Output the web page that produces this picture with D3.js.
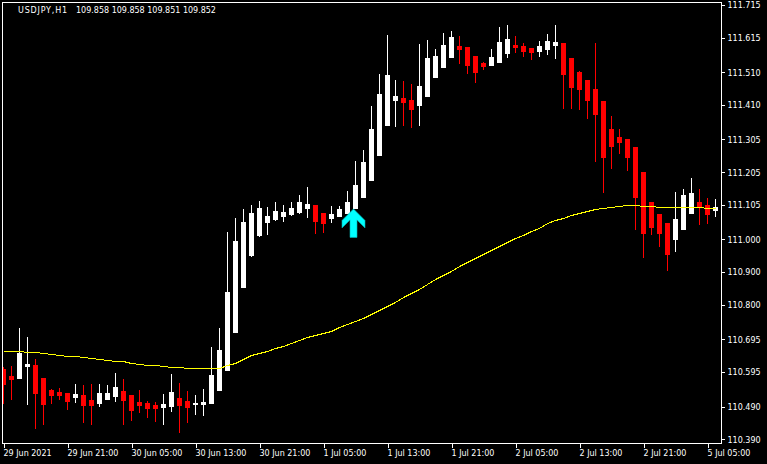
<!DOCTYPE html>
<html>
<head>
<meta charset="utf-8">
<script src="https://cdn.jsdelivr.net/npm/d3@7/dist/d3.min.js"></script>
<style>
  html, body { margin: 0; padding: 0; background: #000; }
  svg { display: block; }
  text { font-family: 'DejaVu Sans', sans-serif; font-size: 8px; fill: #fff; }
</style>
</head>
<body>
<div id="chart"></div>
<script>
// USDJPY H1 bars, oldest first (29 Jun 13:00 .. 5 Jul 06:00)
var opens = [
  110.605, 110.584, 110.578, 110.615, 110.617, 110.577, 110.541, 110.535, 110.531, 110.519,
  110.525, 110.510, 110.502, 110.513, 110.523, 110.538, 110.525, 110.504, 110.501, 110.495,
  110.489, 110.492, 110.516, 110.507, 110.499, 110.499, 110.502, 110.541, 110.603, 110.718,
  110.856, 110.953, 111.014, 111.054, 111.063, 111.072, 111.077, 111.084, 111.097, 111.105,
  111.081, 111.066, 111.071, 111.081, 111.097, 111.130, 111.182, 111.258, 111.350, 111.426,
  111.431, 111.425, 111.411, 111.438, 111.496, 111.527, 111.557, 111.590, 111.587, 111.559,
  111.538, 111.533, 111.542, 111.570, 111.594, 111.590, 111.584, 111.576, 111.582, 111.593,
  111.599, 111.553, 111.511, 111.486, 111.459, 111.422, 111.337, 111.312, 111.306, 111.282,
  111.206, 111.114, 111.077, 111.050, 111.002, 111.033, 111.081, 111.114, 111.105, 111.091
];
var highs = [
  110.612, 110.614, 110.730, 110.702, 110.635, 110.577, 110.544, 110.547, 110.531, 110.559,
  110.556, 110.559, 110.559, 110.556, 110.592, 110.574, 110.525, 110.541, 110.507, 110.504,
  110.528, 110.589, 110.562, 110.538, 110.525, 110.544, 110.672, 110.730, 111.023, 111.065,
  111.093, 111.105, 111.117, 111.099, 111.114, 111.105, 111.114, 111.135, 111.160, 111.105,
  111.081, 111.102, 111.102, 111.148, 111.240, 111.273, 111.407, 111.505, 111.624, 111.486,
  111.483, 111.474, 111.596, 111.608, 111.581, 111.630, 111.636, 111.620, 111.587, 111.559,
  111.541, 111.581, 111.648, 111.654, 111.620, 111.599, 111.584, 111.605, 111.627, 111.654,
  111.599, 111.553, 111.514, 111.486, 111.599, 111.422, 111.376, 111.337, 111.306, 111.282,
  111.206, 111.114, 111.077, 111.050, 111.145, 111.154, 111.187, 111.154, 111.126, 111.123
];
var lows = [
  110.502, 110.513, 110.578, 110.499, 110.426, 110.438, 110.502, 110.514, 110.484, 110.505,
  110.444, 110.438, 110.493, 110.513, 110.508, 110.438, 110.450, 110.474, 110.459, 110.447,
  110.438, 110.477, 110.413, 110.444, 110.468, 110.465, 110.502, 110.541, 110.603, 110.718,
  110.856, 110.950, 111.010, 111.017, 111.060, 111.057, 111.075, 111.081, 111.069, 111.020,
  111.023, 111.054, 111.071, 111.081, 111.096, 111.130, 111.182, 111.258, 111.350, 111.347,
  111.350, 111.344, 111.350, 111.438, 111.496, 111.527, 111.557, 111.539, 111.509, 111.481,
  111.521, 111.533, 111.542, 111.557, 111.573, 111.560, 111.551, 111.560, 111.566, 111.554,
  111.402, 111.402, 111.399, 111.371, 111.240, 111.146, 111.219, 111.264, 111.213, 111.033,
  110.947, 111.017, 110.981, 110.907, 110.966, 111.033, 111.081, 111.048, 111.051, 111.072
];
var closes = [
  110.559, 110.574, 110.654, 110.621, 110.532, 110.499, 110.525, 110.525, 110.507, 110.528,
  110.495, 110.495, 110.531, 110.531, 110.550, 110.510, 110.481, 110.495, 110.487, 110.487,
  110.498, 110.534, 110.495, 110.489, 110.502, 110.505, 110.586, 110.663, 110.840, 110.995,
  111.053, 111.081, 111.096, 111.071, 111.087, 111.084, 111.096, 111.114, 111.108, 111.057,
  111.051, 111.077, 111.093, 111.114, 111.166, 111.236, 111.337, 111.444, 111.502, 111.437,
  111.420, 111.399, 111.468, 111.553, 111.559, 111.593, 111.617, 111.581, 111.533, 111.512,
  111.530, 111.556, 111.602, 111.611, 111.588, 111.576, 111.573, 111.590, 111.605, 111.602,
  111.505, 111.465, 111.459, 111.426, 111.383, 111.252, 111.286, 111.298, 111.252, 111.130,
  111.020, 111.039, 111.020, 110.956, 111.062, 111.135, 111.142, 111.100, 111.078, 111.099
];
// yellow moving average, one value per bar
var maValues = [
  110.659, 110.659, 110.659, 110.658, 110.656, 110.653, 110.650, 110.647, 110.644, 110.643,
  110.640, 110.637, 110.635, 110.631, 110.630, 110.628, 110.624, 110.621, 110.618, 110.616,
  110.615, 110.612, 110.610, 110.608, 110.607, 110.607, 110.607, 110.607, 110.616, 110.623,
  110.635, 110.646, 110.652, 110.660, 110.668, 110.676, 110.685, 110.692, 110.701, 110.707,
  110.713, 110.721, 110.733, 110.742, 110.750, 110.759, 110.772, 110.784, 110.797, 110.809,
  110.823, 110.836, 110.850, 110.864, 110.878, 110.891, 110.905, 110.919, 110.931, 110.943,
  110.955, 110.968, 110.980, 110.992, 111.003, 111.013, 111.026, 111.036, 111.049, 111.058,
  111.065, 111.074, 111.081, 111.088, 111.092, 111.095, 111.098, 111.102, 111.104, 111.104,
  111.103, 111.101, 111.098, 111.098, 111.098, 111.098, 111.100, 111.099, 111.097, 111.097
];

var yTickValues = [111.715, 111.615, 111.510, 111.410, 111.305, 111.205, 111.105,
  111.000, 110.900, 110.800, 110.695, 110.595, 110.490, 110.390];
var xTickIndex = [0, 8, 16, 24, 32, 40, 48, 56, 64, 72, 80, 88];
var xTickLabels = ['29 Jun 2021', '29 Jun 21:00', '30 Jun 05:00', '30 Jun 13:00',
  '30 Jun 21:00', '1 Jul 05:00', '1 Jul 13:00', '1 Jul 21:00', '2 Jul 05:00',
  '2 Jul 13:00', '2 Jul 21:00', '5 Jul 05:00'];

// buy signal arrow
var signalIndex = 44;
var signalPrice = 111.093;

var headerSymbol = 'USDJPY,H1';
var headerPrices = '109.858 109.858 109.851 109.852';

var width = 767;
var height = 464;
var frame = {left: 2.5, right: 721.5, top: 2.5, bottom: 443.5};

var svg = d3.select('#chart').append('svg')
  .attr('width', width)
  .attr('height', height);

svg.append('rect')
  .attr('width', width)
  .attr('height', height)
  .attr('fill', '#000');

var x = d3.scaleLinear()
  .domain([0, opens.length - 1])
  .range([3.5, 3.5 + 8 * (opens.length - 1)]);

var y = d3.scaleLinear()
  .domain([110.390, 111.715])
  .range([439.36, 5]);

svg.append('clipPath')
  .attr('id', 'plot-clip')
  .append('rect')
    .attr('x', frame.left)
    .attr('y', frame.top)
    .attr('width', frame.right - frame.left)
    .attr('height', frame.bottom - frame.top);

var plot = svg.append('g').attr('clip-path', 'url(#plot-clip)');

var bars = opens.map(function(o, i) {
  return {i: i, o: o, h: highs[i], l: lows[i], c: closes[i]};
});

function barColor(d) {
  return d.c >= d.o ? '#fff' : '#f00';
}

// wicks
plot.selectAll('line.wick')
  .data(bars)
  .enter()
  .append('line')
    .attr('class', 'wick')
    .attr('x1', function(d) { return x(d.i); })
    .attr('x2', function(d) { return x(d.i); })
    .attr('y1', function(d) { return Math.round(y(d.h)); })
    .attr('y2', function(d) { return Math.round(y(d.l)) + 1; })
    .attr('stroke', barColor)
    .attr('stroke-width', 1)
    .attr('shape-rendering', 'crispEdges');

// bodies
plot.selectAll('rect.body')
  .data(bars)
  .enter()
  .append('rect')
    .attr('class', 'body')
    .attr('x', function(d) { return x(d.i) - 2.5; })
    .attr('width', 5)
    .attr('y', function(d) { return Math.round(y(Math.max(d.o, d.c))); })
    .attr('height', function(d) {
      var top = Math.round(y(Math.max(d.o, d.c)));
      var bottom = Math.round(y(Math.min(d.o, d.c)));
      return Math.max(1, bottom - top + 1);
    })
    .attr('fill', barColor)
    .attr('shape-rendering', 'crispEdges');

// moving average
var maLine = d3.line()
  .x(function(d, i) { return x(i); })
  .y(function(d) { return Math.round(y(d)) + 0.5; });

plot.append('path')
  .datum(maValues)
  .attr('d', maLine)
  .attr('fill', 'none')
  .attr('stroke', '#ff0')
  .attr('stroke-width', 1)
  .attr('shape-rendering', 'crispEdges');

// signal arrow, drawn from its tip
var ax = x(signalIndex) - 2;
var ay = y(signalPrice);
var arrowShape = [[0, 0], [11.5, 11.5], [11.5, 19], [3.5, 11], [3.5, 28.5],
  [-3.5, 28.5], [-3.5, 11], [-11.5, 19], [-11.5, 11.5]];

plot.append('polygon')
  .attr('points', arrowShape.map(function(p) {
    return (ax + p[0]) + ',' + (ay + p[1]);
  }).join(' '))
  .attr('fill', '#0ff')
  .attr('stroke', '#00b4b4')
  .attr('stroke-width', 0.6);

// frame
svg.append('rect')
  .attr('x', frame.left)
  .attr('y', frame.top)
  .attr('width', frame.right - frame.left)
  .attr('height', frame.bottom - frame.top)
  .attr('fill', 'none')
  .attr('stroke', '#fff')
  .attr('stroke-width', 1)
  .attr('shape-rendering', 'crispEdges');

// price axis
var yAxis = d3.axisRight(y)
  .tickValues(yTickValues)
  .tickFormat(d3.format('.3f'))
  .tickSize(3)
  .tickSizeOuter(0);

var yAxisG = svg.append('g')
  .attr('transform', 'translate(' + frame.right + ',0)')
  .call(yAxis);

yAxisG.select('.domain').remove();
yAxisG.selectAll('.tick line')
  .attr('stroke', '#fff')
  .attr('shape-rendering', 'crispEdges');
yAxisG.selectAll('.tick text')
  .attr('x', 6)
  .attr('dy', '0.35em')
  .attr('fill', '#fff')
  .style('font-family', "'DejaVu Sans', sans-serif")
  .style('font-size', '8px');

// time axis
var xAxis = d3.axisBottom(x)
  .tickValues(xTickIndex)
  .tickFormat(function(d, i) { return xTickLabels[i]; })
  .tickSize(4)
  .tickSizeOuter(0);

var xAxisG = svg.append('g')
  .attr('transform', 'translate(0,' + frame.bottom + ')')
  .call(xAxis);

xAxisG.select('.domain').remove();
xAxisG.selectAll('.tick line')
  .attr('stroke', '#fff')
  .attr('shape-rendering', 'crispEdges');
xAxisG.selectAll('.tick text')
  .attr('text-anchor', 'start')
  .attr('x', -0.5)
  .attr('y', 12.5)
  .attr('dy', 0)
  .attr('fill', '#fff')
  .style('font-family', "'DejaVu Sans', sans-serif")
  .style('font-size', '8px');

// header
svg.append('text')
  .attr('x', 18)
  .attr('y', 13.3)
  .attr('letter-spacing', 0.8)
  .text(headerSymbol);

svg.append('text')
  .attr('x', 76)
  .attr('y', 13.3)
  .text(headerPrices);
</script>
</body>
</html>
